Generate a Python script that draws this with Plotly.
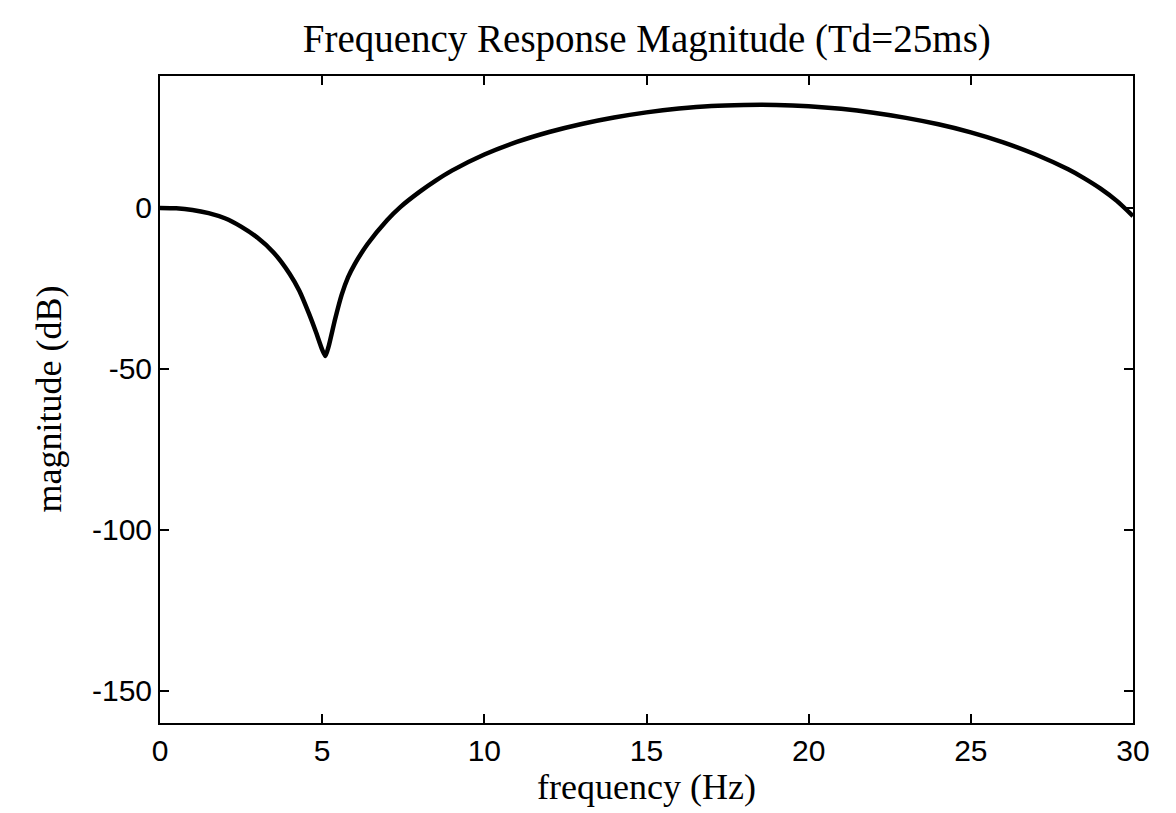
import plotly.graph_objects as go

freq_hz = [0, 0.5, 1, 1.5, 2, 2.5, 3, 3.5, 4, 4.3, 4.6, 4.8, 5.0, 5.1, 5.2, 5.4, 5.6, 5.8,
           6.0, 6.4, 7, 7.4, 8, 8.5, 9, 10, 11, 12, 13, 14, 15, 16, 17, 18, 19, 20, 21,
           22, 23, 24, 25, 26, 27, 28, 28.5, 29, 29.5, 30]
magnitude_db = [0, -0.1, -0.6, -1.6, -3.2, -5.8, -9.2, -13.8, -20.5, -25.8, -33, -38.3, -44, -46,
                -43, -34.5, -27, -21.5, -17.5, -11.2, -3.8, 0.2, 5.0, 8.5, 11.6, 16.6, 20.5, 23.6,
                26.1, 28.1, 29.7, 30.9, 31.7, 32, 32, 31.6, 30.8, 29.6, 28, 26, 23.5, 20.4,
                16.6, 12, 9.2, 6, 2.2, -2.5]

x_ticks = [0, 5, 10, 15, 20, 25, 30]
y_ticks = [0, -50, -100, -150]

serif = "Liberation Serif, Times New Roman, serif"
sans = "Liberation Sans, Arial, sans-serif"

fig = go.Figure()
fig.add_trace(go.Scatter(x=freq_hz, y=magnitude_db, mode="lines",
                         line=dict(color="black", width=4.5, shape="spline", smoothing=0.6),
                         showlegend=False))

axis_common = dict(showline=True, linecolor="black", linewidth=2, mirror="ticks",
                   ticks="inside", ticklen=9, tickwidth=1.5, tickcolor="black",
                   showgrid=False, zeroline=False,
                   tickfont=dict(family=sans, size=30, color="black"))

fig.update_layout(
    width=1176, height=813,
    margin=dict(l=160, r=43, t=76, b=90),
    paper_bgcolor="white", plot_bgcolor="white",
    title=dict(text="Frequency Response Magnitude (Td=25ms)", x=0.55, xanchor="center",
               y=0.953, yanchor="middle",
               font=dict(family=serif, size=39, color="black")),
    xaxis=dict(range=[0, 30], tickvals=x_ticks, ticktext=[str(v) for v in x_ticks],
               **axis_common),
    yaxis=dict(range=[-160, 41], tickvals=y_ticks, ticktext=[str(v) for v in y_ticks],
               **axis_common),
    annotations=[
        dict(text="frequency (Hz)", xref="paper", yref="paper", x=0.5, y=0,
             xanchor="center", yanchor="middle", yshift=-64, showarrow=False,
             font=dict(family=serif, size=36, color="black")),
        dict(text="magnitude (dB)", xref="paper", yref="paper", x=0, y=0.5,
             xanchor="center", yanchor="middle", xshift=-112, textangle=-90,
             showarrow=False, font=dict(family=serif, size=36, color="black")),
    ],
)

fig.write_html("out.html")
